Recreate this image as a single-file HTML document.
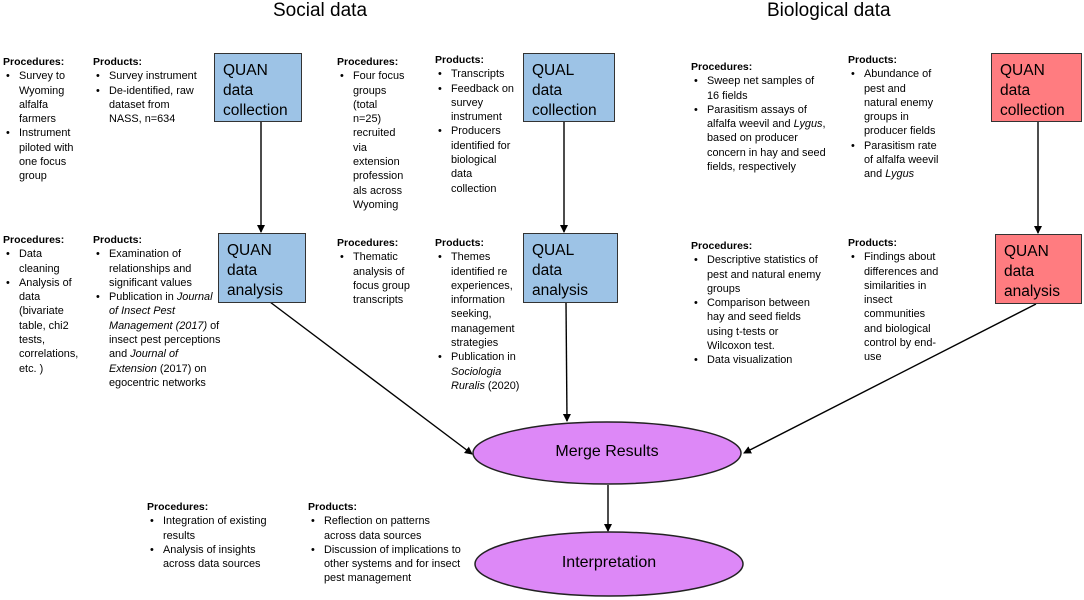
<!DOCTYPE html>
<html><head><meta charset="utf-8"><style>
body{margin:0;width:1084px;height:600px;position:relative;background:#fff;font-family:"Liberation Sans",sans-serif;overflow:hidden;color:#000}
.t{position:absolute;font-size:10.9px;line-height:14.3px;white-space:nowrap}
.t b{display:block;font-size:10.5px}
.li{position:relative;padding-left:16px}
.li:before{content:"•";position:absolute;left:3px;top:0}
.box{position:absolute;border:1.5px solid #333;box-sizing:border-box;font-size:15.5px;line-height:20px;padding:7px 0 0 8px}
.blue{background:#9dc3e6}.red{background:#ff7c80}
.title{position:absolute;font-size:19px;top:0px}
.el{position:absolute;font-size:16px;text-align:center}
</style></head><body>
<div class="title" style="left:273px">Social data</div>
<div class="title" style="left:767px">Biological data</div>

<svg width="1084" height="600" style="position:absolute;left:0;top:0">
<defs><marker id="a" markerWidth="8" markerHeight="8" refX="7" refY="4" orient="auto" markerUnits="userSpaceOnUse"><path d="M0,0 L8,4 L0,8 z" fill="#000"/></marker></defs>
<g stroke="#000" stroke-width="1.4" fill="none">
<line x1="261" y1="122" x2="261" y2="232" marker-end="url(#a)"/>
<line x1="564" y1="122" x2="564" y2="232" marker-end="url(#a)"/>
<line x1="1038" y1="122" x2="1038" y2="233" marker-end="url(#a)"/>
<line x1="270" y1="302" x2="472" y2="454" marker-end="url(#a)"/>
<line x1="566" y1="302" x2="567" y2="421" marker-end="url(#a)"/>
<line x1="1036" y1="304" x2="744" y2="453" marker-end="url(#a)"/>
<line x1="608" y1="485" x2="608" y2="531" marker-end="url(#a)"/>
</g>
<ellipse cx="607" cy="453" rx="134" ry="31" fill="#dd88f7" stroke="#222" stroke-width="1.5"/>
<ellipse cx="609" cy="564" rx="134" ry="32" fill="#dd88f7" stroke="#222" stroke-width="1.5"/>
</svg>
<div class="el" style="left:507px;top:443px;width:200px">Merge Results</div>
<div class="el" style="left:509px;top:554px;width:200px">Interpretation</div>

<div class="box blue" style="left:214px;top:53px;width:88px;height:69px">QUAN<br>data<br>collection</div>
<div class="box blue" style="left:523px;top:53px;width:92px;height:69px">QUAL<br>data<br>collection</div>
<div class="box red" style="left:991px;top:53px;width:91px;height:69px">QUAN<br>data<br>collection</div>
<div class="box blue" style="left:218px;top:233px;width:88px;height:70px">QUAN<br>data<br>analysis</div>
<div class="box blue" style="left:523px;top:233px;width:95px;height:70px">QUAL<br>data<br>analysis</div>
<div class="box red" style="left:995px;top:234px;width:87px;height:70px">QUAN<br>data<br>analysis</div>

<div class="t" style="left:3px;top:55px"><b>Procedures:</b><div class="li">Survey to<br>Wyoming<br>alfalfa<br>farmers</div><div class="li">Instrument<br>piloted with<br>one focus<br>group</div></div>
<div class="t" style="left:93px;top:55px"><b>Products:</b><div class="li">Survey instrument</div><div class="li">De-identified, raw<br>dataset from<br>NASS, n=634</div></div>
<div class="t" style="left:337px;top:55px"><b>Procedures:</b><div class="li">Four focus<br>groups<br>(total<br>n=25)<br>recruited<br>via<br>extension<br>profession<br>als across<br>Wyoming</div></div>
<div class="t" style="left:435px;top:53px"><b>Products:</b><div class="li">Transcripts</div><div class="li">Feedback on<br>survey<br>instrument</div><div class="li">Producers<br>identified for<br>biological<br>data<br>collection</div></div>
<div class="t" style="left:691px;top:60px"><b>Procedures:</b><div class="li">Sweep net samples of<br>16 fields</div><div class="li">Parasitism assays of<br>alfalfa weevil and <i>Lygus</i>,<br>based on producer<br>concern in hay and seed<br>fields, respectively</div></div>
<div class="t" style="left:848px;top:53px"><b>Products:</b><div class="li">Abundance of<br>pest and<br>natural enemy<br>groups in<br>producer fields</div><div class="li">Parasitism rate<br>of alfalfa weevil<br>and <i>Lygus</i></div></div>

<div class="t" style="left:3px;top:233px"><b>Procedures:</b><div class="li">Data<br>cleaning</div><div class="li">Analysis of<br>data<br>(bivariate<br>table, chi2<br>tests,<br>correlations,<br>etc. )</div></div>
<div class="t" style="left:93px;top:233px"><b>Products:</b><div class="li">Examination of<br>relationships and<br>significant values</div><div class="li">Publication in <i>Journal</i><br><i>of Insect Pest</i><br><i>Management (2017)</i> of<br>insect pest perceptions<br>and <i>Journal of</i><br><i>Extension</i> (2017) on<br>egocentric networks</div></div>
<div class="t" style="left:337px;top:236px"><b>Procedures:</b><div class="li">Thematic<br>analysis of<br>focus group<br>transcripts</div></div>
<div class="t" style="left:435px;top:236px"><b>Products:</b><div class="li">Themes<br>identified re<br>experiences,<br>information<br>seeking,<br>management<br>strategies</div><div class="li">Publication in<br><i>Sociologia</i><br><i>Ruralis</i> (2020)</div></div>
<div class="t" style="left:691px;top:239px"><b>Procedures:</b><div class="li">Descriptive statistics of<br>pest and natural enemy<br>groups</div><div class="li">Comparison between<br>hay and seed fields<br>using t-tests or<br>Wilcoxon test.</div><div class="li">Data visualization</div></div>
<div class="t" style="left:848px;top:236px"><b>Products:</b><div class="li">Findings about<br>differences and<br>similarities in<br>insect<br>communities<br>and biological<br>control by end-<br>use</div></div>

<div class="t" style="left:147px;top:500px"><b>Procedures:</b><div class="li">Integration of existing<br>results</div><div class="li">Analysis of insights<br>across data sources</div></div>
<div class="t" style="left:308px;top:500px"><b>Products:</b><div class="li">Reflection on patterns<br>across data sources</div><div class="li">Discussion of implications to<br>other systems and for insect<br>pest management</div></div>
</body></html>
